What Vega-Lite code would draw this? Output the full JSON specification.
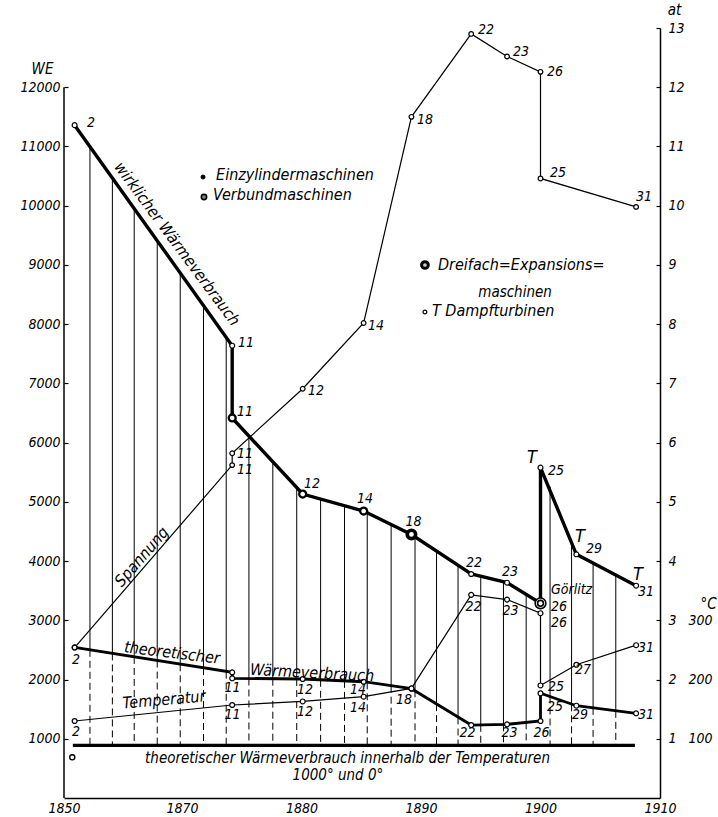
{
  "$schema": "https://vega.github.io/schema/vega-lite/v6.json",
  "width": 596,
  "height": 770,
  "autosize": {"type": "none"},
  "padding": {"left": 64, "top": 28, "right": 58, "bottom": 19},
  "background": "white",
  "config": {
    "view": {"stroke": null},
    "axis": {
      "grid": false, "domainColor": "black", "tickColor": "black", "labelColor": "black", "titleColor": "black",
      "labelFont": "DejaVu Sans Condensed, Liberation Sans Narrow, DejaVu Sans, sans-serif",
      "titleFont": "DejaVu Sans Condensed, Liberation Sans Narrow, DejaVu Sans, sans-serif",
      "labelFontStyle": "italic", "titleFontStyle": "italic", "titleFontWeight": "normal",
      "labelFontSize": 14, "titleFontSize": 15, "labelOverlap": false, "labelBound": false
    }
  },
  "datasets": {
    "wirk": [
      {"order": 1, "year": 1851.8, "we": 11360, "p": "2", "type": "Einzylinder"},
      {"order": 2, "year": 1874.2, "we": 7636, "p": "11", "type": "Einzylinder"},
      {"order": 3, "year": 1874.2, "we": 6416, "p": "11", "type": "Verbund"},
      {"order": 4, "year": 1880.1, "we": 5132, "p": "12", "type": "Verbund"},
      {"order": 5, "year": 1885.2, "we": 4845, "p": "14", "type": "Verbund"},
      {"order": 6, "year": 1889.2, "we": 4449, "p": "18", "type": "Dreifach"},
      {"order": 7, "year": 1894.2, "we": 3782, "p": "22", "type": "Mehrfach"},
      {"order": 8, "year": 1897.2, "we": 3635, "p": "23", "type": "Mehrfach"},
      {"order": 9, "year": 1900.0, "we": 3287, "p": "26", "type": "Görlitz"},
      {"order": 10, "year": 1900.0, "we": 5577, "p": "25", "type": "Dampfturbine"},
      {"order": 11, "year": 1903.0, "we": 4114, "p": "29", "type": "Dampfturbine"},
      {"order": 12, "year": 1908.0, "we": 3584, "p": "31", "type": "Dampfturbine"}
    ],
    "theo": [
      {"order": 1, "year": 1851.8, "we": 2544, "p": "2"},
      {"order": 2, "year": 1874.2, "we": 2122, "p": "11"},
      {"order": 3, "year": 1874.2, "we": 2021, "p": "11"},
      {"order": 4, "year": 1880.1, "we": 2009, "p": "12"},
      {"order": 5, "year": 1885.2, "we": 1963, "p": "14"},
      {"order": 6, "year": 1889.2, "we": 1845, "p": "18"},
      {"order": 7, "year": 1894.2, "we": 1232, "p": "22"},
      {"order": 8, "year": 1897.2, "we": 1244, "p": "23"},
      {"order": 9, "year": 1900.0, "we": 1300, "p": "26"},
      {"order": 10, "year": 1900.0, "we": 1768, "p": "25"},
      {"order": 11, "year": 1903.0, "we": 1558, "p": "29"},
      {"order": 12, "year": 1908.0, "we": 1430, "p": "31"}
    ],
    "temp": [
      {"order": 1, "year": 1851.8, "c": 130, "p": "2"},
      {"order": 2, "year": 1874.2, "c": 157, "p": "11"},
      {"order": 3, "year": 1880.1, "c": 163, "p": "12"},
      {"order": 4, "year": 1885.2, "c": 171, "p": "14"},
      {"order": 5, "year": 1889.2, "c": 185, "p": "18"},
      {"order": 6, "year": 1894.2, "c": 343, "p": "22"},
      {"order": 7, "year": 1897.2, "c": 335, "p": "23"},
      {"order": 8, "year": 1900.0, "c": 312, "p": "26"},
      {"order": 9, "year": 1900.0, "c": 190, "p": "25"},
      {"order": 10, "year": 1903.0, "c": 225, "p": "27"},
      {"order": 11, "year": 1908.0, "c": 258, "p": "31"}
    ],
    "span": [
      {"order": 1, "year": 1851.8, "at": 2.54, "p": "2"},
      {"order": 2, "year": 1874.2, "at": 5.62, "p": "11"},
      {"order": 3, "year": 1874.2, "at": 5.82, "p": "11"},
      {"order": 4, "year": 1880.1, "at": 6.91, "p": "12"},
      {"order": 5, "year": 1885.2, "at": 8.02, "p": "14"},
      {"order": 6, "year": 1889.2, "at": 11.5, "p": "18"},
      {"order": 7, "year": 1894.2, "at": 12.9, "p": "22"},
      {"order": 8, "year": 1897.2, "at": 12.52, "p": "23"},
      {"order": 9, "year": 1900.0, "at": 12.26, "p": "26"},
      {"order": 10, "year": 1900.0, "at": 10.46, "p": "25"},
      {"order": 11, "year": 1908.0, "at": 9.98, "p": "31"}
    ],
    "hatch": [
      {"year": 1854.4, "top": 11011, "theo": 2502},
      {"year": 1858.2, "top": 10476, "theo": 2441},
      {"year": 1861.9, "top": 9953, "theo": 2381},
      {"year": 1865.8, "top": 9419, "theo": 2320},
      {"year": 1869.7, "top": 8872, "theo": 2257},
      {"year": 1871.8, "top": 8325, "theo": 2195},
      {"year": 1873.7, "top": 7766, "theo": 2132},
      {"year": 1875.6, "top": 6100, "theo": 2018},
      {"year": 1877.6, "top": 5675, "theo": 2014},
      {"year": 1879.6, "top": 5241, "theo": 2009},
      {"year": 1881.6, "top": 5046, "theo": 1995},
      {"year": 1883.6, "top": 4937, "theo": 1977},
      {"year": 1885.5, "top": 4815, "theo": 1953},
      {"year": 1887.5, "top": 4617, "theo": 1896},
      {"year": 1889.5, "top": 4415, "theo": 1818},
      {"year": 1891.3, "top": 4167, "theo": 1585},
      {"year": 1893.1, "top": 3925, "theo": 1359},
      {"year": 1895.0, "top": 3740, "theo": 1236},
      {"year": 1896.9, "top": 3647, "theo": 1244},
      {"year": 1898.8, "top": 3442, "theo": 1276},
      {"year": 1900.8, "top": 5259, "theo": 1714},
      {"year": 1902.6, "top": 4351, "theo": 1582},
      {"year": 1904.4, "top": 3978, "theo": 1521},
      {"year": 1906.3, "top": 3770, "theo": 1471}
    ],
    "lab_left": [
      {"year": 1853.9, "we": 11396, "text": "2"},
      {"year": 1874.69, "we": 7682, "text": "11"},
      {"year": 1874.6, "we": 6517, "text": "11"},
      {"year": 1880.2, "we": 5301, "text": "12"},
      {"year": 1900.88, "we": 3512, "text": "Görlitz"},
      {"year": 1900.88, "we": 3225, "text": "26"},
      {"year": 1900.63, "we": 5521, "text": "25"},
      {"year": 1903.8, "we": 4204, "text": "29"},
      {"year": 1908.16, "we": 3478, "text": "31"},
      {"year": 1900.54, "we": 1536, "text": "25"},
      {"year": 1902.64, "we": 1401, "text": "29"},
      {"year": 1908.16, "we": 1401, "text": "31"},
      {"year": 1900.88, "we": 2955, "text": "26"},
      {"year": 1900.63, "we": 1874, "text": "25"},
      {"year": 1902.89, "we": 2161, "text": "27"},
      {"year": 1908.16, "we": 2532, "text": "31"},
      {"year": 1874.6, "we": 5808, "text": "11"},
      {"year": 1874.6, "we": 5538, "text": "11"},
      {"year": 1880.54, "we": 6871, "text": "12"},
      {"year": 1885.56, "we": 7969, "text": "14"},
      {"year": 1889.67, "we": 11447, "text": "18"},
      {"year": 1894.77, "we": 12966, "text": "22"},
      {"year": 1897.7, "we": 12595, "text": "23"},
      {"year": 1900.54, "we": 12257, "text": "26"},
      {"year": 1900.79, "we": 10552, "text": "25"}
    ],
    "lab_center": [
      {"year": 1885.31, "we": 5048, "text": "14"},
      {"year": 1889.37, "we": 4660, "text": "18"},
      {"year": 1894.44, "we": 3967, "text": "22"},
      {"year": 1897.45, "we": 3816, "text": "23"},
      {"year": 1852.03, "we": 2330, "text": "2"},
      {"year": 1874.23, "we": 1857, "text": "11"},
      {"year": 1880.29, "we": 1823, "text": "12"},
      {"year": 1884.73, "we": 1823, "text": "14"},
      {"year": 1888.58, "we": 1655, "text": "18"},
      {"year": 1893.89, "we": 1097, "text": "22"},
      {"year": 1897.41, "we": 1097, "text": "23"},
      {"year": 1900.08, "we": 1097, "text": "26"},
      {"year": 1852.03, "we": 1114, "text": "2"},
      {"year": 1874.23, "we": 1401, "text": "11"},
      {"year": 1880.29, "we": 1452, "text": "12"},
      {"year": 1884.73, "we": 1519, "text": "14"},
      {"year": 1894.39, "we": 3225, "text": "22"},
      {"year": 1897.49, "we": 3157, "text": "23"},
      {"year": 1908.66, "we": 10147, "text": "31"}
    ],
    "big_t": [
      {"year": 1899.29, "we": 5740, "text": "T"},
      {"year": 1903.31, "we": 4406, "text": "T"},
      {"year": 1908.16, "we": 3765, "text": "T"}
    ],
    "leg_text": [
      {"year": 1872.85, "we": 10518, "text": "Einzylindermaschinen"},
      {"year": 1872.6, "we": 10180, "text": "Verbundmaschinen"},
      {"year": 1891.42, "we": 8999, "text": "Dreifach=Expansions="},
      {"year": 1890.92, "we": 8222, "text": "T Dampfturbinen"}
    ],
    "cap_text": [
      {"year": 1897.87, "we": 8543, "text": "maschinen"},
      {"year": 1883.85, "we": 670, "text": "theoretischer Wärmeverbrauch innerhalb der Temperaturen"},
      {"year": 1883.05, "we": 385, "text": "1000° und 0°"}
    ],
    "legend": [
      {"year": 1871.76, "we": 10484, "type": "Einzylinder"},
      {"year": 1871.84, "we": 10147, "type": "Verbund"},
      {"year": 1890.33, "we": 8999, "type": "Dreifach"},
      {"year": 1890.33, "we": 8205, "type": "Dampfturbine"}
    ]
  },
  "encoding": {
    "x": {
      "field": "year", "type": "quantitative",
      "scale": {"domain": [1850, 1870, 1910], "range": [0, 118, 596], "nice": false, "zero": false},
      "axis": {"values": [1850, 1870, 1880, 1890, 1900, 1910], "title": null, "ticks": false, "labelPadding": 3, "format": "d", "domainWidth": 1.5, "labelFlush": false}
    }
  },
  "layer": [
    {
      "data": {"name": "hatch"},
      "mark": {"type": "rule", "stroke": "black", "strokeWidth": 1},
      "encoding": {
        "y": {"field": "top", "type": "quantitative", "scale": {"domain": [0, 13000], "nice": false, "zero": false}, "axis": null},
        "y2": {"field": "theo"}
      }
    },
    {
      "data": {"name": "hatch"},
      "mark": {"type": "rule", "stroke": "black", "strokeWidth": 1, "strokeDash": [7, 4]},
      "encoding": {
        "y": {"field": "theo", "type": "quantitative", "scale": {"domain": [0, 13000], "nice": false, "zero": false}, "axis": null},
        "y2": {"datum": 890}
      }
    },
    {
      "data": {"values": [{"year": 1850, "we": 0, "we2": 12000}]},
      "mark": {"type": "rule", "stroke": "black", "strokeWidth": 1.5},
      "encoding": {
        "y": {"field": "we", "type": "quantitative", "scale": {"domain": [0, 13000], "nice": false, "zero": false}, "axis": null},
        "y2": {"field": "we2"}
      }
    },
    {
      "data": {"values": [{"year": 1851.5, "year2": 1907.9, "we": 890}]},
      "mark": {"type": "rule", "stroke": "black", "strokeWidth": 3.2},
      "encoding": {
        "x2": {"field": "year2"},
        "y": {"field": "we", "type": "quantitative", "scale": {"domain": [0, 13000], "nice": false, "zero": false}, "axis": null}
      }
    },
    {
      "data": {"name": "theo"},
      "mark": {"type": "line", "stroke": "black", "strokeWidth": 2.8},
      "encoding": {
        "order": {"field": "order"},
        "y": {"field": "we", "type": "quantitative", "scale": {"domain": [0, 13000], "nice": false, "zero": false}, "axis": null}
      }
    },
    {
      "data": {"name": "temp"},
      "mark": {"type": "line", "stroke": "black", "strokeWidth": 1.2},
      "encoding": {
        "order": {"field": "order"},
        "y": {"field": "c", "type": "quantitative", "scale": {"domain": [0, 1300], "nice": false, "zero": false},
          "axis": {"orient": "right", "offset": 22, "values": [100, 200, 300], "title": "°C", "titleAngle": 0, "titleX": 26, "titleY": 575, "titleAlign": "center", "titleBaseline": "middle", "domain": false, "ticks": false, "labelPadding": 6, "labelAlign": "left"}}
      }
    },
    {
      "data": {"name": "span"},
      "mark": {"type": "line", "stroke": "black", "strokeWidth": 1.2},
      "encoding": {
        "order": {"field": "order"},
        "y": {"field": "at", "type": "quantitative", "scale": {"domain": [0, 13], "nice": false, "zero": false},
          "axis": {"orient": "right", "values": [1, 2, 3, 4, 5, 6, 7, 8, 9, 10, 11, 12, 13], "title": "at", "titleAngle": 0, "titleX": 14, "titleY": -19, "titleAlign": "center", "titleBaseline": "middle", "domainWidth": 1.5, "tickSize": -4, "tickWidth": 1.2, "labelPadding": 12, "labelAlign": "left", "format": "d"}}
      }
    },
    {
      "data": {"name": "wirk"},
      "mark": {"type": "line", "stroke": "black", "strokeWidth": 3.4},
      "encoding": {
        "order": {"field": "order"},
        "y": {"field": "we", "type": "quantitative", "scale": {"domain": [0, 13000], "nice": false, "zero": false},
          "axis": {"orient": "left", "values": [1000, 2000, 3000, 4000, 5000, 6000, 7000, 8000, 9000, 10000, 11000, 12000], "format": "d", "title": "WE", "titleAngle": 0, "titleX": -22, "titleY": 40, "titleAlign": "center", "titleBaseline": "middle", "domain": false, "tickSize": -4, "tickWidth": 1.2, "labelPadding": 8}}
      }
    },
    {
      "data": {"values": [{"year": 1851.4, "we": 687}]},
      "mark": {"type": "point", "shape": "circle", "filled": true, "fill": "white", "stroke": "black", "strokeWidth": 1.4, "size": 26, "opacity": 1},
      "encoding": {"y": {"field": "we", "type": "quantitative", "scale": {"domain": [0, 13000], "nice": false, "zero": false}, "axis": null}}
    },
    {
      "data": {"name": "theo"},
      "mark": {"type": "point", "shape": "circle", "filled": true, "fill": "white", "stroke": "black", "strokeWidth": 1.2, "size": 24, "opacity": 1},
      "encoding": {"y": {"field": "we", "type": "quantitative", "scale": {"domain": [0, 13000], "nice": false, "zero": false}, "axis": null}}
    },
    {
      "data": {"name": "temp"},
      "mark": {"type": "point", "shape": "circle", "filled": true, "fill": "white", "stroke": "black", "strokeWidth": 1.2, "size": 24, "opacity": 1},
      "encoding": {"y": {"field": "c", "type": "quantitative", "scale": {"domain": [0, 1300], "nice": false, "zero": false}, "axis": null}}
    },
    {
      "data": {"name": "span"},
      "mark": {"type": "point", "shape": "circle", "filled": true, "fill": "white", "stroke": "black", "strokeWidth": 1.2, "size": 22, "opacity": 1},
      "encoding": {"y": {"field": "at", "type": "quantitative", "scale": {"domain": [0, 13], "nice": false, "zero": false}, "axis": null}}
    },
    {
      "data": {"name": "wirk"},
      "mark": {"type": "point", "shape": "circle", "filled": true, "fill": "white", "stroke": "black", "opacity": 1},
      "encoding": {
        "y": {"field": "we", "type": "quantitative", "scale": {"domain": [0, 13000], "nice": false, "zero": false}, "axis": null},
        "size": {"field": "type", "type": "nominal", "legend": null, "scale": {"type": "ordinal", "domain": ["Einzylinder", "Verbund", "Dreifach", "Mehrfach", "Görlitz", "Dampfturbine"], "range": [24, 48, 70, 24, 115, 24]}},
        "strokeWidth": {"field": "type", "type": "nominal", "legend": null, "scale": {"type": "ordinal", "domain": ["Einzylinder", "Verbund", "Dreifach", "Mehrfach", "Görlitz", "Dampfturbine"], "range": [1.2, 2.3, 3.6, 1.2, 1.6, 1.2]}}
      }
    },
    {
      "data": {"name": "wirk"},
      "transform": [{"filter": "datum.type == 'Görlitz'"}],
      "mark": {"type": "point", "shape": "circle", "filled": true, "fill": "white", "stroke": "black", "strokeWidth": 1.6, "size": 34, "opacity": 1},
      "encoding": {"y": {"field": "we", "type": "quantitative", "scale": {"domain": [0, 13000], "nice": false, "zero": false}, "axis": null}}
    },
    {
      "data": {"name": "legend"},
      "transform": [{"filter": "datum.type == 'Einzylinder'"}],
      "mark": {"type": "point", "shape": "circle", "filled": true, "fill": "black", "stroke": "black", "strokeWidth": 1, "size": 16, "opacity": 1},
      "encoding": {"y": {"field": "we", "type": "quantitative", "scale": {"domain": [0, 13000], "nice": false, "zero": false}, "axis": null}}
    },
    {
      "data": {"name": "legend"},
      "transform": [{"filter": "datum.type == 'Verbund'"}],
      "mark": {"type": "point", "shape": "circle", "filled": true, "fill": "#888", "stroke": "black", "strokeWidth": 1.6, "size": 28, "opacity": 1},
      "encoding": {"y": {"field": "we", "type": "quantitative", "scale": {"domain": [0, 13000], "nice": false, "zero": false}, "axis": null}}
    },
    {
      "data": {"name": "legend"},
      "transform": [{"filter": "datum.type == 'Dreifach'"}],
      "mark": {"type": "point", "shape": "circle", "filled": true, "fill": "#ccc", "stroke": "black", "strokeWidth": 3, "size": 45, "opacity": 1},
      "encoding": {"y": {"field": "we", "type": "quantitative", "scale": {"domain": [0, 13000], "nice": false, "zero": false}, "axis": null}}
    },
    {
      "data": {"name": "legend"},
      "transform": [{"filter": "datum.type == 'Dampfturbine'"}],
      "mark": {"type": "point", "shape": "circle", "filled": true, "fill": "white", "stroke": "black", "strokeWidth": 1.2, "size": 14, "opacity": 1},
      "encoding": {"y": {"field": "we", "type": "quantitative", "scale": {"domain": [0, 13000], "nice": false, "zero": false}, "axis": null}}
    },
    {
      "data": {"name": "lab_left"},
      "mark": {"type": "text", "align": "left", "baseline": "middle", "fontSize": 14, "fontStyle": "italic", "font": "DejaVu Sans Condensed, Liberation Sans Narrow, DejaVu Sans, sans-serif", "fill": "black"},
      "encoding": {"y": {"field": "we", "type": "quantitative", "scale": {"domain": [0, 13000], "nice": false, "zero": false}, "axis": null}, "text": {"field": "text"}}
    },
    {
      "data": {"name": "lab_center"},
      "mark": {"type": "text", "align": "center", "baseline": "middle", "fontSize": 14, "fontStyle": "italic", "font": "DejaVu Sans Condensed, Liberation Sans Narrow, DejaVu Sans, sans-serif", "fill": "black"},
      "encoding": {"y": {"field": "we", "type": "quantitative", "scale": {"domain": [0, 13000], "nice": false, "zero": false}, "axis": null}, "text": {"field": "text"}}
    },
    {
      "data": {"name": "big_t"},
      "mark": {"type": "text", "align": "center", "baseline": "middle", "fontSize": 18, "fontStyle": "italic", "font": "DejaVu Sans Condensed, Liberation Sans Narrow, DejaVu Sans, sans-serif", "fill": "black"},
      "encoding": {"y": {"field": "we", "type": "quantitative", "scale": {"domain": [0, 13000], "nice": false, "zero": false}, "axis": null}, "text": {"field": "text"}}
    },
    {
      "data": {"name": "leg_text"},
      "mark": {"type": "text", "align": "left", "baseline": "middle", "fontSize": 16, "fontStyle": "italic", "font": "DejaVu Sans Condensed, Liberation Sans Narrow, DejaVu Sans, sans-serif", "fill": "black"},
      "encoding": {"y": {"field": "we", "type": "quantitative", "scale": {"domain": [0, 13000], "nice": false, "zero": false}, "axis": null}, "text": {"field": "text"}}
    },
    {
      "data": {"name": "cap_text"},
      "mark": {"type": "text", "align": "center", "baseline": "middle", "fontSize": 15, "fontStyle": "italic", "font": "DejaVu Sans Condensed, Liberation Sans Narrow, DejaVu Sans, sans-serif", "fill": "black"},
      "encoding": {"y": {"field": "we", "type": "quantitative", "scale": {"domain": [0, 13000], "nice": false, "zero": false}, "axis": null}, "text": {"field": "text"}}
    },
    {
      "data": {"values": [{"year": 1869.15, "we": 9353, "text": "wirklicher Wärmeverbrauch"}]},
      "mark": {"type": "text", "align": "center", "baseline": "middle", "angle": 53.5, "fontSize": 16, "fontStyle": "italic", "font": "DejaVu Sans Condensed, Liberation Sans Narrow, DejaVu Sans, sans-serif", "fill": "black"},
      "encoding": {"y": {"field": "we", "type": "quantitative", "scale": {"domain": [0, 13000], "nice": false, "zero": false}, "axis": null}, "text": {"field": "text"}}
    },
    {
      "data": {"values": [{"year": 1863.2, "we": 4069, "text": "Spannung"}]},
      "mark": {"type": "text", "align": "center", "baseline": "middle", "angle": -49, "fontSize": 16, "fontStyle": "italic", "font": "DejaVu Sans Condensed, Liberation Sans Narrow, DejaVu Sans, sans-serif", "fill": "black"},
      "encoding": {"y": {"field": "we", "type": "quantitative", "scale": {"domain": [0, 13000], "nice": false, "zero": false}, "axis": null}, "text": {"field": "text"}}
    },
    {
      "data": {"values": [{"year": 1868.3, "we": 2448, "text": "theoretischer"}]},
      "mark": {"type": "text", "align": "center", "baseline": "middle", "angle": 7, "fontSize": 16, "fontStyle": "italic", "font": "DejaVu Sans Condensed, Liberation Sans Narrow, DejaVu Sans, sans-serif", "fill": "black"},
      "encoding": {"y": {"field": "we", "type": "quantitative", "scale": {"domain": [0, 13000], "nice": false, "zero": false}, "axis": null}, "text": {"field": "text"}}
    },
    {
      "data": {"values": [{"year": 1880.88, "we": 2110, "text": "Wärmeverbrauch"}]},
      "mark": {"type": "text", "align": "center", "baseline": "middle", "angle": 3, "fontSize": 16, "fontStyle": "italic", "font": "DejaVu Sans Condensed, Liberation Sans Narrow, DejaVu Sans, sans-serif", "fill": "black"},
      "encoding": {"y": {"field": "we", "type": "quantitative", "scale": {"domain": [0, 13000], "nice": false, "zero": false}, "axis": null}, "text": {"field": "text"}}
    },
    {
      "data": {"values": [{"year": 1866.95, "we": 1655, "text": "Temperatur"}]},
      "mark": {"type": "text", "align": "center", "baseline": "middle", "angle": -5, "fontSize": 16, "fontStyle": "italic", "font": "DejaVu Sans Condensed, Liberation Sans Narrow, DejaVu Sans, sans-serif", "fill": "black"},
      "encoding": {"y": {"field": "we", "type": "quantitative", "scale": {"domain": [0, 13000], "nice": false, "zero": false}, "axis": null}, "text": {"field": "text"}}
    }
  ],
  "resolve": {"scale": {"y": "independent"}}
}
